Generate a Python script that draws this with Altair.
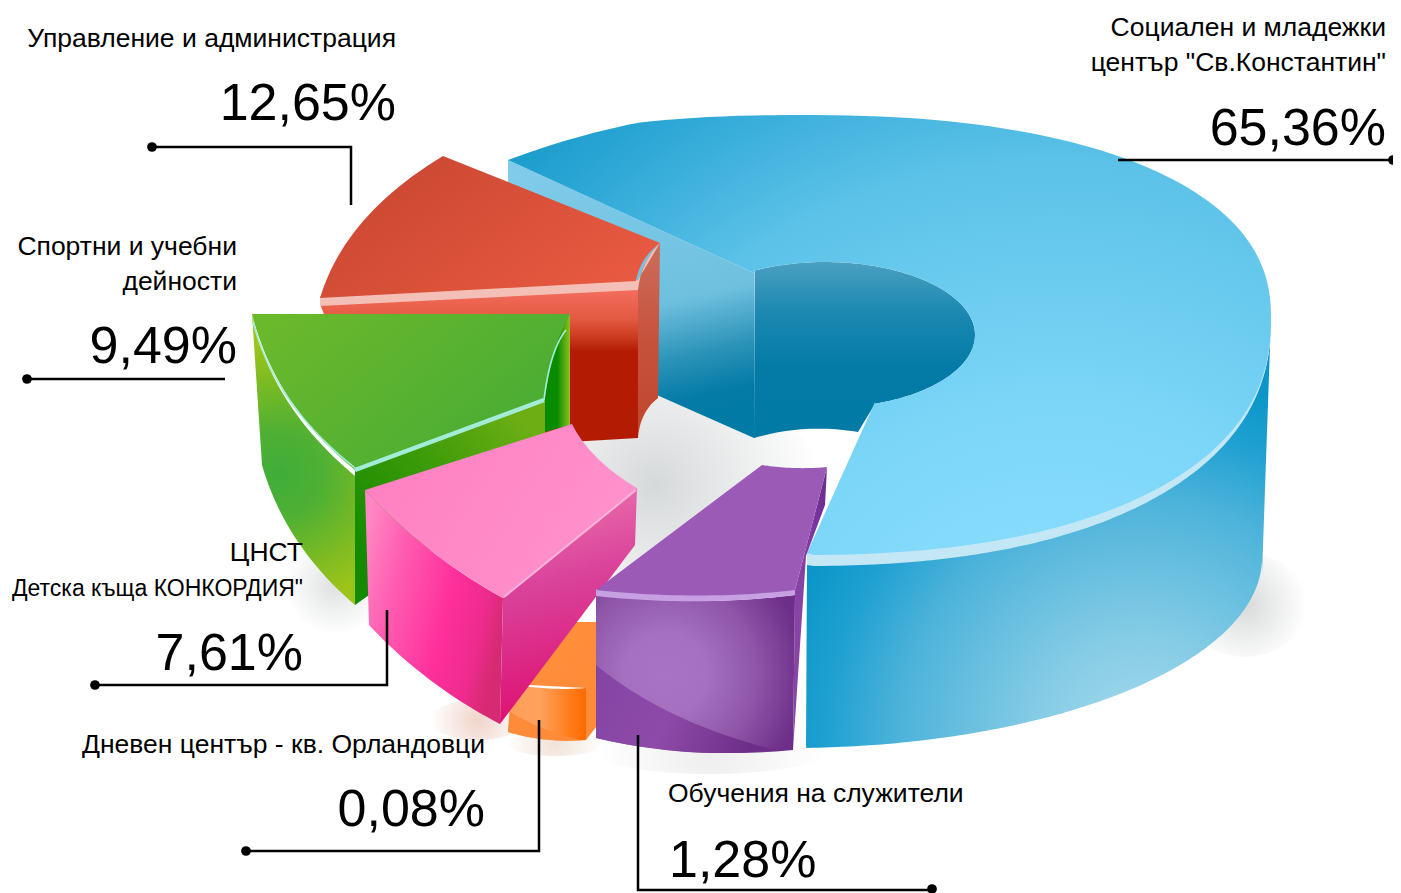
import math
import altair as alt
import pandas as pd

# ---- chart content -------------------------------------------------------
top_labels = [
    ["Социален и младежки", 'център "Св.Константин"'],
    ["Управление и администрация"],
    ["Спортни и учебни", "дейности"],
    ["ЦНСТ", 'Детска къща КОНКОРДИЯ"'],
    ["Дневен център - кв. Орландовци"],
    ["Обучения на служители"],
]
shares = [65.36, 12.65, 9.49, 7.61, 0.08, 1.28]

# ---- drawing helpers: everything is placed in the picture's pixel space ----
X = alt.X("x:Q", scale=alt.Scale(domain=[8, 1393], nice=False), axis=None)
Y = alt.Y("y:Q", scale=alt.Scale(domain=[8, 893], reverse=True, nice=False), axis=None)


def arc(cx, cy, rx, ry, t0, t1, n=2.0, steps=120, ry_low=None):
    pts = []
    for i in range(steps + 1):
        t = math.radians(t0 + (t1 - t0) * i / steps)
        c, s = math.cos(t), math.sin(t)
        r_y = ry_low if (ry_low is not None and s > 0) else ry
        pts.append((cx + rx * math.copysign(abs(c) ** (2 / n), c),
                    cy + r_y * math.copysign(abs(s) ** (2 / n), s)))
    return pts


def path(*segs):
    """segment: (x, y) line-to, (cx, cy, x, y) quadratic curve, or list of points"""
    pts = []
    for s in segs:
        if isinstance(s, list):
            pts.extend(s)
        elif len(s) == 2:
            pts.append(s)
        else:
            x0, y0 = pts[-1]
            for i in range(1, 25):
                u = i / 24
                pts.append(((1 - u) ** 2 * x0 + 2 * u * (1 - u) * s[0] + u * u * s[2],
                            (1 - u) ** 2 * y0 + 2 * u * (1 - u) * s[1] + u * u * s[3]))
    return pts


def frame(pts):
    return pd.DataFrame({"x": [p[0] for p in pts], "y": [p[1] for p in pts],
                         "i": list(range(len(pts)))})


def lin(stops, x1=0, y1=0, x2=1, y2=0):
    n = len(stops)
    st = [{"offset": (s[1] if isinstance(s, tuple) else i / (n - 1)),
           "color": (s[0] if isinstance(s, tuple) else s)} for i, s in enumerate(stops)]
    return {"gradient": "linear", "stops": st, "x1": x1, "y1": y1, "x2": x2, "y2": y2}


def rad(stops, x, y, r):
    st = [{"offset": s[1], "color": s[0]} for s in stops]
    return {"gradient": "radial", "stops": st, "x1": x, "y1": y, "r1": 0, "x2": x, "y2": y, "r2": r}


layers = []


def face(fill, *segs, opacity=1):
    layers.append(alt.Chart(frame(path(*segs))).mark_line(
        fill=fill, stroke="transparent", strokeWidth=0, opacity=opacity, clip=False
    ).encode(x=X, y=Y, order=alt.Order("i:Q")))


def stroke(color, width, *segs):
    layers.append(alt.Chart(frame(path(*segs))).mark_line(
        stroke=color, strokeWidth=width, strokeCap="butt", strokeJoin="miter"
    ).encode(x=X, y=Y, order=alt.Order("i:Q")))


def glow(color, cx, cy, rx, ry):
    g = rad([(color, 0), ("#ffffff", 1)], 0.5, 0.5, 0.5)
    face(g, arc(cx, cy, rx, ry, 0, 360))


# ---- soft shadows ---------------------------------------------------------
glow("#d6d9da", 655, 485, 165, 105)
glow("#dfe1e1", 335, 585, 50, 48)
glow("#f0d4ca", 478, 720, 48, 20)
glow("#f1e2d8", 555, 744, 48, 12)
glow("#eeeeee", 710, 752, 115, 22)
glow("#d8dada", 1245, 605, 62, 52)

# ---- big blue slice -------------------------------------------------------
BX, BY, BRX, RY_UP, RY_LOW, N = 800, 318, 471, 203, 237, 2.3
face(lin([("#7fcbe9", 0), ("#6fc0df", 0.55), ("#2c93b8", 0.75), ("#037ba6", 0.9), ("#017aa5", 1)], 0.35, 0, 0.55, 1),
     (508, 160), (754, 273), (754, 438), (650, 392), (508, 330))
inner = arc(825, 335, 150, 73, 242, 430.5)
face(lin([("#4a9fc1", 0), ("#1a88b0", 0.3), ("#037ba6", 0.6), ("#017aa5", 1)], 0, 0, 0, 1),
     inner, (858, 432), (805, 423, 754, 438))
# outer wall
face(rad([("#a8dbed", 0), ("#83cbe5", 0.3), ("#4db3da", 0.65), ("#1ea0d1", 0.85), ("#0b95c8", 1)], 0.72, 0.95, 0.8),
     (807, 560), arc(BX, BY, BRX, 0, 86, 0, N, ry_low=RY_LOW + 6), (1271, 318), (1262, 575),
     arc(790, 558, 472, 190, 0, 88), (806, 746))
# pale rim, then top
face("#c4e7f6", (807, 565), arc(BX, BY, BRX, 0, 89, 0, N, ry_low=RY_LOW + 11), (807, 553))
face(rad([("#93e2ff", 0), ("#7cd6f8", 0.35), ("#5cc2e8", 0.62), ("#2ba6d5", 0.8), ("#1b9ccb", 0.88), ("#0f94c5", 1)], 0.72, 1, 1.17),
     (508, 160), (575, 135, 638.5, 122.7), arc(BX, BY, BRX, RY_UP, 253, 449, N, ry_low=RY_LOW), (807, 553), (875, 402),
     arc(825, 335, 150, 73, 430.5, 242), (754, 273))

# ---- red slice ------------------------------------------------------------
face(lin([("#f56e5e", 0), ("#e35a42", 0.2), ("#c9381c", 0.33), ("#b31c02", 0.41), ("#b31c02", 1)], 0, 0, 0, 1),
     (320, 304), (638, 288), (638, 438), (570, 442), (450, 400), (330, 330))
face(lin([("#cc6d5c", 0), ("#c6523c", 0.5), ("#c0452b", 1)], 0, 0, 0, 1),
     (660, 243), (641, 262, 638, 288), (638, 438), (640, 412, 658, 398))
face("#f3bfb6", (320, 296), (638, 280), (660, 243), (641, 262, 638, 290), (320, 306))
face(lin(["#c84630", "#ea5a42"], 0, 0.2, 1, 0.8),
     (443, 156), (660, 243), (640, 258, 636, 281), (320, 298), (345, 215, 443, 156))

# ---- green slice ----------------------------------------------------------
face(rad([("#3fad3a", 0), ("#4fb033", 0.3), ("#7dbb22", 0.65), ("#9cc41a", 0.9), ("#9cc41a", 1)], 0.42, 0.55, 0.5),
     (252, 314), (270, 405, 355, 476), (355, 605), (285, 545, 262, 465), (252, 314))
face(lin([("#138a00", 0), ("#3a9a08", 0.5), ("#6cae14", 1)], 0.1, 0.85, 0.9, 0.15),
     (355, 468), (545, 396), (545, 470), (355, 605))
face(lin(["#058a00", "#0c8c00", "#8ec11f"], 0, 0, 1, 0),
     (570, 314), (550, 345, 545, 400), (545, 432), (570, 425))
face(lin(["#6ab82c", "#45ab35"], 0, 0.2, 1, 0.8),
     (252, 314), (570, 314), (552, 345, 545, 398), (355, 470), (275, 405, 252, 314))
stroke("#a3ecd8", 1.6, (253, 322), (275, 405, 355, 468))
stroke("#a3ecd8", 4.5, (355, 470), (544, 400))
stroke("#a3ecd8", 1.6, (544, 400), (550, 350, 566, 330))

# ---- orange slice ---------------------------------------------------------
face(lin(["#ff8f3c", "#ff8a38"], 0, 0, 1, 1),
     (570, 622), (600, 622), (600, 722), (586, 740), (586, 688), (511, 684))
face(lin([("#ff9e58", 0), ("#ffa25e", 0.4), ("#ff8020", 0.75), ("#ff6a00", 1)], 0, 0, 1, 0),
     (511, 684), (550, 691, 586, 688), (586, 740), (545, 743, 508, 732))
face("#ff8a38", (510, 712), (540, 730, 580, 740), (545, 743, 508, 732))

# ---- pink slice -----------------------------------------------------------
face(lin([("#ff86c4", 0), ("#ff5db1", 0.25), ("#ff2f9b", 0.62), ("#ee2b8e", 0.85), ("#d62a72", 1)], 0, 0.2, 1, 0.6),
     (365, 490), (425, 555, 503, 598), (500, 724), (425, 685, 369, 625))
face(lin([("#ed72ae", 0), ("#d9429a", 0.4), ("#df0b6e", 1)], 0.35, 0, 0.5, 1),
     (503, 598), (637, 488), (635, 545), (500, 724))
face(lin(["#ff80c1", "#ff93ce"], 0, 0.3, 1, 0.7),
     (365, 490), (572, 424), (590, 460, 637, 488), (503, 598), (425, 555, 365, 490))
stroke("#ffb4da", 2, (504, 597), (636, 490))

# ---- purple slice ---------------------------------------------------------
face(lin([("#6f2f92", 0), ("#7a34a0", 0.3), ("#8744a5", 1)], 0.8, 0, 0.2, 0.4),
     (827, 467), (825, 505), (806, 556), (793, 750), (795, 590))
face(rad([("#a873c2", 0), ("#a470bf", 0.3), ("#8f55a8", 0.65), ("#6c2e88", 1)], 0.35, 0.5, 0.7),
     (596, 595), (700, 607, 795, 595), (793, 750), (690, 760, 596, 738))
face(lin(["#8444a4", "#8e4aa8", "#6c2e88"], 0, 0, 1, 0.2),
     (596, 665), (665, 722, 775, 750), (690, 760, 596, 738))
face("#c79fe3", (596, 589), (700, 600, 795, 589), (795, 595), (700, 607, 596, 596))
face("#9a5ab5", (762, 465), (795, 470, 827, 467), (795, 590), (700, 601, 596, 590))

# ---- leader lines ---------------------------------------------------------
leaders = [
    [(1118, 160), (1393, 160)],
    [(152, 147), (351, 147), (351, 205)],
    [(27, 379), (225, 379)],
    [(95, 685), (387, 685), (387, 610)],
    [(246, 851), (539, 851), (539, 720)],
    [(638, 735), (638, 890), (932, 890)],
]
dots = [(1393, 160), (152, 147), (27, 379), (95, 685), (246, 851), (932, 889)]
for ln in leaders:
    stroke("#000000", 2.5, *ln)
layers.append(alt.Chart(pd.DataFrame(dots, columns=["x", "y"])).mark_circle(
    size=95, color="#000000", opacity=1).encode(x=X, y=Y))

# ---- text -----------------------------------------------------------------
FONT = "Liberation Sans"
anchors_right = [1386, 396, 237, 303, 485]
first_base = [36, 47, 255, 561, 753]
pct_base = [145, 120, 363, 670, 826]
rows, pct_rows, small_rows = [], [], []
for k, rx_ in enumerate(anchors_right):
    for j, t in enumerate(top_labels[k]):
        row = {"x": rx_, "y": first_base[k] + 35 * j, "t": t}
        (small_rows if t.startswith("Детска") else rows).append(row)
    pct_rows.append({"x": rx_, "y": pct_base[k], "t": f"{shares[k]:.2f}".replace(".", ",") + "%"})


def text(rows_, size, align):
    return alt.Chart(pd.DataFrame(rows_)).mark_text(
        font=FONT, fontSize=size, align=align, baseline="alphabetic", color="#000000"
    ).encode(x=X, y=Y, text="t:N")


layers.append(text(rows, 26.5, "right"))
layers.append(text(small_rows, 23, "right"))
layers.append(text(pct_rows, 52, "right"))
layers.append(text([{"x": 668, "y": 802, "t": top_labels[5][0]}], 26.5, "left"))
layers.append(text([{"x": 669, "y": 877, "t": f"{shares[5]:.2f}".replace(".", ",") + "%"}], 52, "left"))

chart = alt.layer(*layers).properties(
    width=1385, height=885, padding=0,
    autosize=alt.AutoSizeParams(type="none"),
    background="#ffffff",
).configure_view(stroke=None)

chart.save("out.html", embed_options={"renderer": "svg", "actions": False})
